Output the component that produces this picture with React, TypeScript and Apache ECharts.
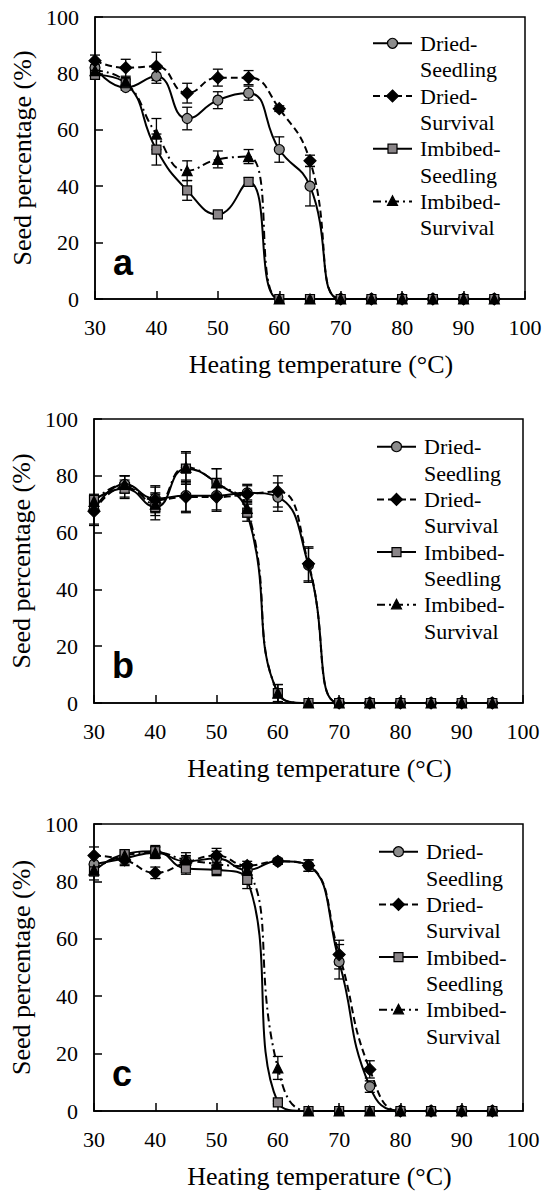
import React, { useEffect, useRef } from "react";
import * as echarts from "echarts";

// Heating temperatures (°C)
const temps = [30, 35, 40, 45, 50, 55, 60, 65, 70, 75, 80, 85, 90, 95];

// Panel a
const aDriedSeedling = [82, 75, 79, 64, 70.5, 73, 53, 40, 0, 0, 0, 0, 0, 0];
const aDriedSeedlingErr = [1, 1, 2.5, 4, 3, 2.5, 4.5, 7, 0, 0, 0, 0, 0, 0];
const aDriedSurvival = [84.5, 82, 82.5, 73, 78.5, 78.5, 67.5, 49, 0, 0, 0, 0, 0, 0];
const aDriedSurvivalErr = [2, 3, 5, 3.5, 3, 2.5, 1, 2, 0, 0, 0, 0, 0, 0];
const aImbibedSeedling = [79.5, 76.5, 53, 38.5, 30, 41.5, 0, 0, 0, 0, 0, 0, 0, 0];
const aImbibedSeedlingErr = [1, 1.5, 5.5, 3.5, 1, 1.5, 0, 0, 0, 0, 0, 0, 0, 0];
const aImbibedSurvival = [81, 77, 58.5, 45.5, 49.5, 50.5, 0, 0, 0, 0, 0, 0, 0, 0];
const aImbibedSurvivalErr = [1, 1.5, 5.5, 3.5, 3, 2.5, 0, 0, 0, 0, 0, 0, 0, 0];

// Panel b
const bDriedSeedling = [68, 77, 72, 73, 73, 74, 72.5, 48.5, 0, 0, 0, 0, 0, 0];
const bDriedSeedlingErr = [5, 3, 4.5, 5.5, 5, 3, 5, 6, 0, 0, 0, 0, 0, 0];
const bDriedSurvival = [67.5, 76, 71.5, 72.5, 72.5, 73.5, 74.5, 49, 0, 0, 0, 0, 0, 0];
const bDriedSurvivalErr = [5, 4, 4.5, 5.5, 5, 3, 5.5, 6, 0, 0, 0, 0, 0, 0];
const bImbibedSeedling = [71.5, 75.5, 69, 82.5, 77.5, 67, 3.5, 0, 0, 0, 0, 0, 0, 0];
const bImbibedSeedlingErr = [2, 3, 4.5, 5.5, 5, 3, 3, 0, 0, 0, 0, 0, 0, 0];
const bImbibedSurvival = [71, 77, 70, 83, 77.5, 68.5, 3.5, 0, 0, 0, 0, 0, 0, 0];
const bImbibedSurvivalErr = [2, 3, 4, 5.5, 5, 3, 3, 0, 0, 0, 0, 0, 0, 0];

// Panel c
const cDriedSeedling = [86, 88, 90, 87, 88, 84, 87, 85.5, 52, 8.5, 0, 0, 0, 0];
const cDriedSeedlingErr = [3, 2, 2, 2, 2.5, 2, 1, 2, 6, 2, 0, 0, 0, 0];
const cDriedSurvival = [89, 87.5, 83, 86.5, 89, 85.5, 87, 85.5, 54.5, 14.5, 0, 0, 0, 0];
const cDriedSurvivalErr = [3, 2, 2, 2, 2.5, 1.5, 1, 2, 5, 3, 0, 0, 0, 0];
const cImbibedSeedling = [83.5, 89.5, 90.5, 84.5, 84, 80.5, 3, 0, 0, 0, 0, 0, 0, 0];
const cImbibedSeedlingErr = [3, 1.5, 2, 2, 2, 3, 0.5, 0, 0, 0, 0, 0, 0, 0];
const cImbibedSurvival = [84, 89, 90, 87.5, 86, 84, 15, 0, 0, 0, 0, 0, 0, 0];
const cImbibedSurvivalErr = [2, 1.5, 2, 2.5, 2, 2, 4, 0, 0, 0, 0, 0, 0, 0];

const seriesNames = ["Dried-Seedling", "Dried-Survival", "Imbibed-Seedling", "Imbibed-Survival"];
const legendLines = [
  ["Dried-", "Seedling"],
  ["Dried-", "Survival"],
  ["Imbibed-", "Seedling"],
  ["Imbibed-", "Survival"],
];
const panelLetters = ["a", "b", "c"];
const xTitle = "Heating temperature (°C)";
const yTitle = "Seed percentage (%)";

const SERIF = "Liberation Serif";
const SANS = "Liberation Sans";

const panelValues = [
  [aDriedSeedling, aDriedSurvival, aImbibedSeedling, aImbibedSurvival],
  [bDriedSeedling, bDriedSurvival, bImbibedSeedling, bImbibedSurvival],
  [cDriedSeedling, cDriedSurvival, cImbibedSeedling, cImbibedSurvival],
];
const panelErrors = [
  [aDriedSeedlingErr, aDriedSurvivalErr, aImbibedSeedlingErr, aImbibedSurvivalErr],
  [bDriedSeedlingErr, bDriedSurvivalErr, bImbibedSeedlingErr, bImbibedSurvivalErr],
  [cDriedSeedlingErr, cDriedSurvivalErr, cImbibedSeedlingErr, cImbibedSurvivalErr],
];

// layout (pixels)
const layouts = [
  { left: 95, top: 17, width: 430, height: 282, legendX: 420, legendY: 43.3, letterY: 262.5 },
  { left: 94, top: 419, width: 429, height: 284, legendX: 424, legendY: 446.7, letterY: 665.5 },
  { left: 94, top: 824, width: 429, height: 287, legendX: 426, legendY: 851.7, letterY: 1073.5 },
];

const styles = [
  { symbol: "circle", size: 10, fill: "#8c8c8c", dash: "solid" as any },
  { symbol: "diamond", size: 12, fill: "#000", dash: [7, 4] as any },
  { symbol: "rect", size: 9, fill: "#8a8588", dash: "solid" as any },
  { symbol: "triangle", size: 10, fill: "#000", dash: [8, 4, 2, 4] as any },
];

function legendMarker(kind: number, cx: number, cy: number) {
  const st = { fill: styles[kind].fill, stroke: "#000", lineWidth: 1.2 };
  if (kind === 0) return { type: "circle", shape: { cx, cy, r: 5 }, style: st, z: 10 };
  if (kind === 1)
    return {
      type: "polygon",
      shape: { points: [[cx, cy - 6], [cx + 6, cy], [cx, cy + 6], [cx - 6, cy]] },
      style: st,
      z: 10,
    };
  if (kind === 2) return { type: "rect", shape: { x: cx - 4.5, y: cy - 4.5, width: 9, height: 9 }, style: st, z: 10 };
  return {
    type: "polygon",
    shape: { points: [[cx, cy - 5.5], [cx + 5, cy + 4], [cx - 5, cy + 4]] },
    style: st,
    z: 10,
  };
}

export default function App() {
  const ref = useRef<HTMLDivElement>(null);
  useEffect(() => {
    document.body.style.margin = "0";
    if (!ref.current) return;
    const chart = echarts.init(ref.current, null, { renderer: "svg" });

    const grids = layouts.map((l) => ({
      left: l.left,
      top: l.top,
      width: l.width,
      height: l.height,
      show: true,
      borderColor: "#000",
      borderWidth: 1.5,
      backgroundColor: "transparent",
    }));

    const xAxes = layouts.map((_, i) => ({
      gridIndex: i,
      type: "value",
      min: 30,
      max: 100,
      interval: 10,
      axisLine: { onZero: false, lineStyle: { color: "#000", width: 1.5 } },
      axisTick: { inside: true, length: 8, lineStyle: { color: "#000", width: 1.5 } },
      axisLabel: { color: "#000", fontSize: 22, fontFamily: SERIF, margin: 17 },
      splitLine: { show: false },
      name: xTitle,
      nameLocation: "middle",
      nameGap: 52,
      nameTextStyle: { color: "#000", fontSize: 26, fontFamily: SERIF, padding: [0, 0, 0, 22] },
    }));

    const yAxes = layouts.map((_, i) => ({
      gridIndex: i,
      type: "value",
      min: 0,
      max: 100,
      interval: 20,
      axisLine: { onZero: false, lineStyle: { color: "#000", width: 1.5 } },
      axisTick: { inside: true, length: 8, lineStyle: { color: "#000", width: 1.5 } },
      axisLabel: { color: "#000", fontSize: 22, fontFamily: SERIF, margin: 16 },
      splitLine: { show: false },
      name: yTitle,
      nameLocation: "middle",
      nameRotate: 90,
      nameGap: 59,
      nameTextStyle: { color: "#000", fontSize: 26, fontFamily: SERIF },
    }));

    const series: any[] = [];
    panelValues.forEach((vals, p) => {
      vals.forEach((v, s) => {
        const errs = panelErrors[p][s];
        series.push({
          type: "custom",
          name: seriesNames[s] + " error",
          xAxisIndex: p,
          yAxisIndex: p,
          coordinateSystem: "cartesian2d",
          encode: { x: 0, y: 1 },
          z: 2,
          silent: true,
          data: temps.map((t, k) => [t, v[k], errs[k]]).filter((d) => d[2] > 0),
          renderItem: (params: any, api: any) => {
            const x = api.value(0);
            const y = api.value(1);
            const e = api.value(2);
            const top = api.coord([x, y + e]);
            const bot = api.coord([x, y - e]);
            const hw = 5;
            const st = { stroke: "#000", lineWidth: 1.3 };
            return {
              type: "group",
              children: [
                { type: "line", shape: { x1: top[0], y1: top[1], x2: bot[0], y2: bot[1] }, style: st },
                { type: "line", shape: { x1: top[0] - hw, y1: top[1], x2: top[0] + hw, y2: top[1] }, style: st },
                { type: "line", shape: { x1: bot[0] - hw, y1: bot[1], x2: bot[0] + hw, y2: bot[1] }, style: st },
              ],
            };
          },
        });
      });
      vals.forEach((v, s) => {
        series.push({
          type: "line",
          name: seriesNames[s],
          xAxisIndex: p,
          yAxisIndex: p,
          z: 3,
          smooth: 0.5,
          data: temps.map((t, k) => [t, v[k]]),
          symbol: styles[s].symbol,
          symbolSize: styles[s].size,
          showAllSymbol: true,
          lineStyle: { color: "#000", width: 2, type: styles[s].dash },
          itemStyle: { color: styles[s].fill, borderColor: "#000", borderWidth: 1.2 },
        });
      });
    });

    const graphics: any[] = [];
    layouts.forEach((l, p) => {
      graphics.push({
        type: "text",
        x: l.left + 18,
        y: l.letterY,
        z: 10,
        style: {
          text: panelLetters[p],
          fill: "#000",
          fontSize: 36,
          fontWeight: "bold",
          fontFamily: SANS,
          verticalAlign: "middle",
          align: "left",
        },
      });
      legendLines.forEach((lines, j) => {
        const cy = l.legendY + j * 52.7;
        const tx = l.legendX;
        graphics.push({
          type: "line",
          z: 9,
          shape: { x1: tx - 47, y1: cy, x2: tx - 8, y2: cy },
          style: {
            stroke: "#000",
            lineWidth: 2,
            lineDash: styles[j].dash === "solid" ? null : styles[j].dash,
          },
        });
        graphics.push(legendMarker(j, tx - 27.5, cy));
        lines.forEach((txt, li) => {
          graphics.push({
            type: "text",
            x: tx,
            y: cy + li * 26.3,
            z: 10,
            style: {
              text: txt,
              fill: "#000",
              fontSize: 22,
              fontFamily: SERIF,
              verticalAlign: "middle",
              align: "left",
            },
          });
        });
      });
    });

    chart.setOption({
      animation: false,
      backgroundColor: "#fff",
      textStyle: { fontFamily: SERIF },
      grid: grids,
      xAxis: xAxes,
      yAxis: yAxes,
      series,
      graphic: graphics,
    });
    return () => chart.dispose();
  }, []);
  return <div ref={ref} style={{ width: 550, height: 1200 }} />;
}
